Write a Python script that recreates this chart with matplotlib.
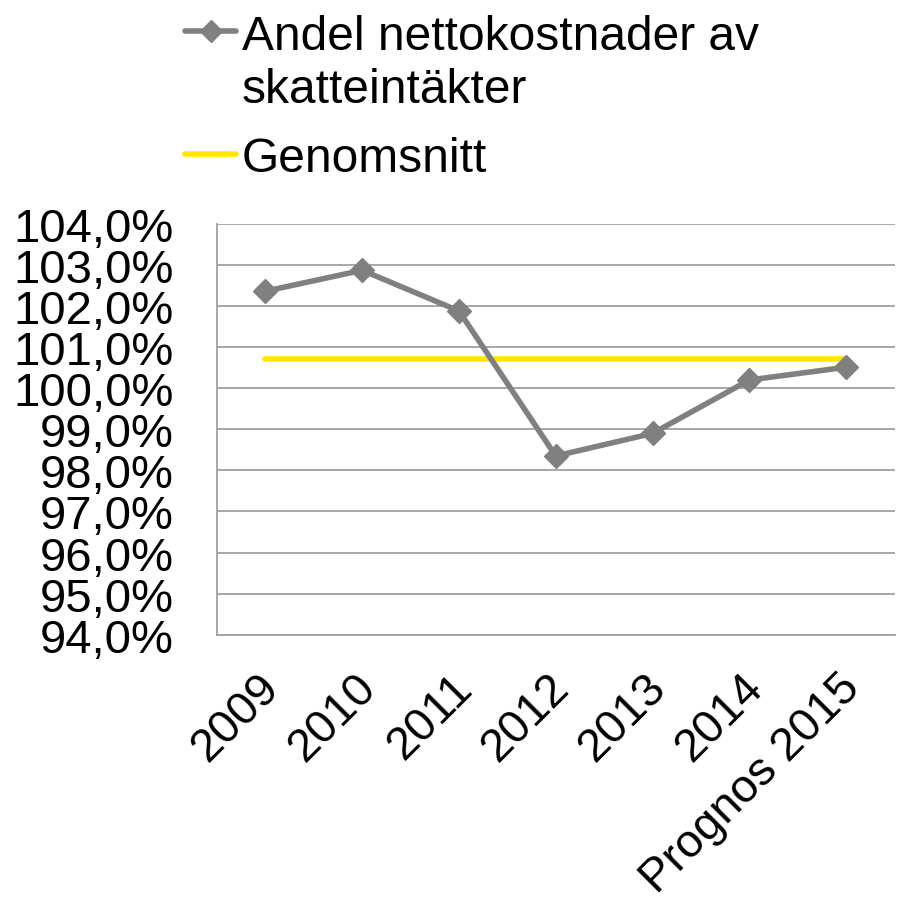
import matplotlib
matplotlib.use("Agg")
import matplotlib.pyplot as plt
from matplotlib.lines import Line2D
from matplotlib.ticker import FuncFormatter
from matplotlib.transforms import ScaledTranslation

plt.rcParams['font.family'] = ['Liberation Sans', 'DejaVu Sans']

categories = ["2009", "2010", "2011", "2012", "2013", "2014", "Prognos 2015"]
andel = [102.36, 102.87, 101.88, 98.35, 98.90, 100.20, 100.51]
genomsnitt = [100.72] * len(categories)
yticks = list(range(94, 105))

GREY = "#808080"
YELLOW = "#FFE600"

fig = plt.figure(figsize=(9.0, 9.03), dpi=100)
ax = fig.add_axes([0.241, 0.296, 0.753, 0.455])

x = list(range(len(categories)))
ax.plot(x, andel, color=GREY, lw=4, marker="D", markersize=12, zorder=3)
ax.plot(x, genomsnitt, color=YELLOW, lw=4, zorder=2, solid_capstyle="round")

ax.set_xlim(-0.5, len(categories) - 0.5)
ax.set_ylim(94, 104)
ax.set_yticks(yticks)
ax.yaxis.set_major_formatter(FuncFormatter(lambda v, p: f"{v:.1f}".replace(".", ",") + "%"))
ax.set_xticks(x)
ax.set_xticklabels(categories, rotation=45, ha="right", va="center", rotation_mode="anchor")
ax.tick_params(axis="y", length=0, pad=31, labelsize=34)
ax.tick_params(axis="x", length=0, pad=33, labelsize=33.5)
shift = ScaledTranslation(7 / 100, 0, fig.dpi_scale_trans)
for lab in ax.get_xticklabels():
    lab.set_transform(lab.get_transform() + shift)
ax.grid(axis="y", color="#A0A0A0", lw=1.3)
ax.set_axisbelow(True)
for s in ["top", "right"]:
    ax.spines[s].set_visible(False)
for s in ["left", "bottom"]:
    ax.spines[s].set_color("#A0A0A0")
    ax.spines[s].set_linewidth(1.3)

# Legend (drawn manually to match layout)
W, H = 900.0, 903.0
def fx(px): return px / W
def fy(py): return 1 - py / H

fig.add_artist(Line2D([fx(185), fx(236)], [fy(32), fy(32)], color=GREY, lw=4,
                      solid_capstyle="round", transform=fig.transFigure))
fig.add_artist(Line2D([fx(210.5)], [fy(32)], color=GREY, marker="D", markersize=11,
                      transform=fig.transFigure))
fig.text(fx(242), fy(50), "Andel nettokostnader av", fontsize=34.5, va="baseline")
fig.text(fx(242), fy(103), "skatteintäkter", fontsize=34.5, va="baseline")
fig.add_artist(Line2D([fx(185), fx(236)], [fy(155), fy(155)], color=YELLOW, lw=4,
                      solid_capstyle="round", transform=fig.transFigure))
fig.text(fx(242), fy(172), "Genomsnitt", fontsize=34.5, va="baseline")

fig.savefig("out.png", dpi=100)
